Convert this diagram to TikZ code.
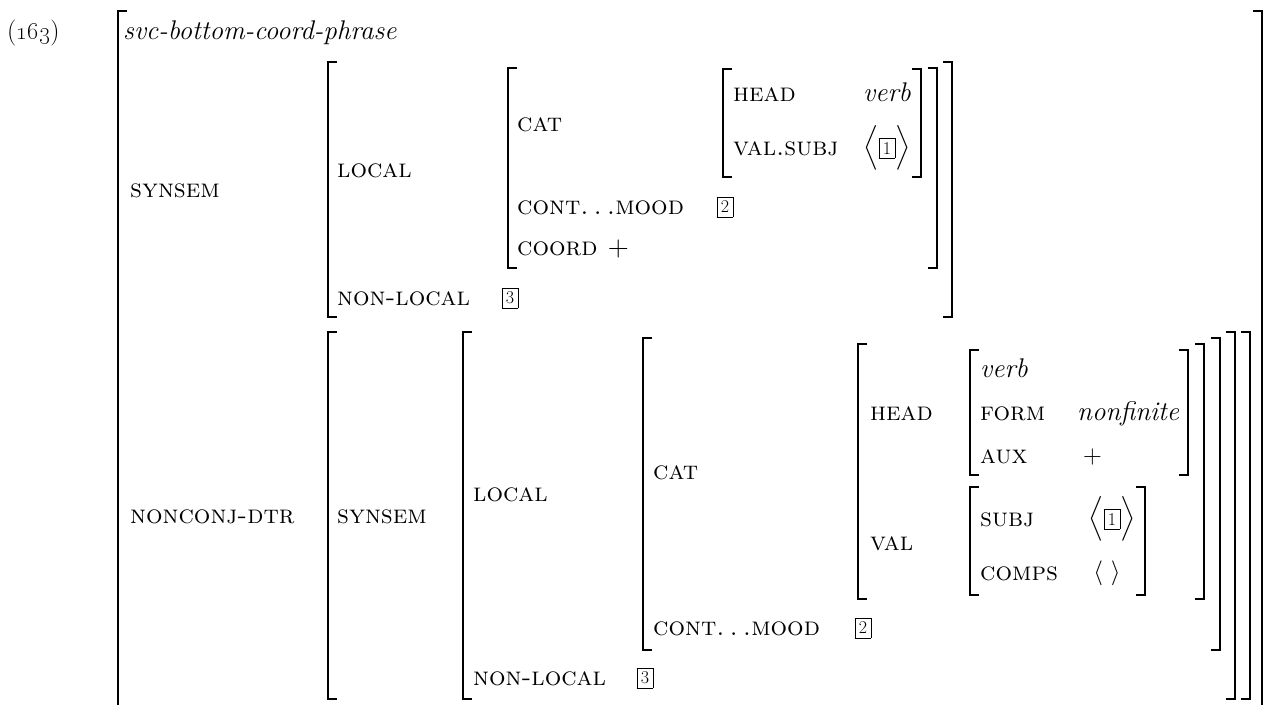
\documentclass[tikz,border=0pt]{standalone}
\usepackage{amsmath}
\newcommand\avmtag[1]{{\setlength\fboxsep{3.6pt}\setlength\fboxrule{0.7pt}\fbox{\fontsize{18}{20}\selectfont #1}}}
\newcommand\lbrk[3]{\draw[brk] ({#1+9},#2) -- (#1,#2) -- (#1,#3) -- ({#1+9},#3);}
\newcommand\rbrk[3]{\draw[brk] ({#1-9},#2) -- (#1,#2) -- (#1,#3) -- ({#1-9},#3);}
\newcommand\contmood{cont.\kern5pt.\kern5pt.mood}
\begin{document}
\begin{tikzpicture}[x=1pt,y=-1pt,
  lab/.style={anchor=west,inner sep=0pt,text height=15pt,text depth=0pt,font=\fontsize{26}{31}\selectfont\scshape},
  typ/.style={anchor=west,inner sep=0pt,text height=15pt,text depth=0pt,font=\fontsize{27}{32}\selectfont\itshape},
  rom/.style={anchor=west,inner sep=0pt,text height=15pt,text depth=0pt,font=\fontsize{26}{31}\selectfont},
  val/.style={anchor=center,inner sep=0pt,font=\fontsize{26}{31}\selectfont},
  biglist/.style={anchor=center,inner sep=0pt,font=\fontsize{30}{36}\selectfont},
  brk/.style={line width=1.8pt}]
\useasboundingbox (0,0) rectangle (1265,704);
% example number and type
\node[rom] (num) at (7,32) {(\oldstylenums{163})};
\node[typ] (type) at (123,32) {svc-bottom-coord-phrase};
\lbrk{118}{11}{712}
\rbrk{1262}{11}{712}
% ---------- upper SYNSEM ----------
\node[lab] (synsem1) at (130,190) {synsem};
\lbrk{328}{62}{317}
\rbrk{952}{62}{317}
\node[lab] (local1) at (337,170) {local};
\lbrk{508}{68}{268}
\rbrk{937}{68}{268}
\node[lab] (cat1) at (517,124) {cat};
\lbrk{723}{69}{177}
\rbrk{921}{69}{177}
\node[lab] (head1) at (733,94) {head};
\node[typ,anchor=east] (verb1) at (911,94) {verb};
\node[lab] (valsubj1) at (733,148) {val.subj};
\node[biglist] (list1) at (887,148) {$\Bigl\langle\avmtag{1}\Bigr\rangle$};
\node[lab] (cont1) at (517,207) {\contmood};
\node[val] (tagtwo1) at (725,207) {\avmtag{2}};
\node[lab] (coord1) at (517,248) {coord +};
\node[lab] (nonlocal1) at (337,298) {non-local};
\node[val] (tagthree1) at (510,298) {\avmtag{3}};
% ---------- NONCONJ-DTR ----------
\node[lab] (nonconj) at (130,516) {nonconj-dtr};
\lbrk{328}{332}{699}
\rbrk{1250}{332}{699}
\node[lab] (synsem2) at (337,516) {synsem};
\lbrk{463}{332}{699}
\rbrk{1235}{332}{699}
\node[lab] (local2) at (473,494) {local};
\lbrk{643}{338}{650}
\rbrk{1220}{338}{650}
\node[lab] (cat2) at (653,472) {cat};
\lbrk{858}{344}{599}
\rbrk{1204}{344}{599}
\node[lab] (head2) at (870,413) {head};
\lbrk{970}{350}{475}
\rbrk{1188}{350}{475}
\node[typ] (verb2) at (980,370) {verb};
\node[lab] (form2) at (980,413) {form};
\node[typ] (nonfinite) at (1077,413) {nonfinite};
\node[lab] (aux2) at (980,456) {aux};
\node[rom] (plus2) at (1083,456) {+};
\node[lab] (val2) at (870,543) {val};
\lbrk{970}{487}{595}
\rbrk{1145}{487}{595}
\node[lab] (subj2) at (980,519) {subj};
\node[biglist] (list2) at (1112,519) {$\Bigl\langle\avmtag{1}\Bigr\rangle$};
\node[lab] (comps2) at (980,573) {comps};
\node[val] (list3) at (1107,573) {$\langle\ \rangle$};
\node[lab] (cont2) at (653,628) {\contmood};
\node[val] (tagtwo2) at (863,628) {\avmtag{2}};
\node[lab] (nonlocal2) at (473,678) {non-local};
\node[val] (tagthree2) at (645,678) {\avmtag{3}};
\end{tikzpicture}
\end{document}
